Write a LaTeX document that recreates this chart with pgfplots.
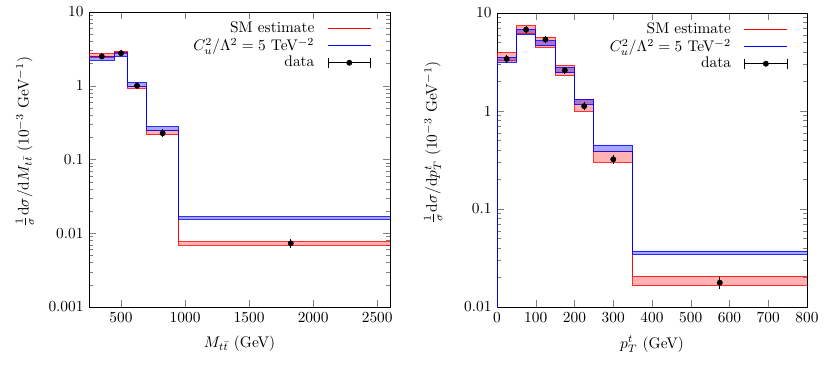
\documentclass[border=0pt]{standalone}
\usepackage{pgfplots}
\pgfplotsset{compat=1.18}
\usepgfplotslibrary{fillbetween}
\usepackage{pgfplotstable}

% bin left edges, last row = right edge of last bin
\pgfplotstableread{
x     smlo    smhi    bsmlo   bsmhi
250   2.45    2.70    2.22    2.50
450   2.72    2.92    2.50    2.80
550   0.93    0.99    0.98    1.11
700   0.216   0.245   0.245   0.278
950   0.0069  0.0077  0.0155  0.0168
2700  0.0069  0.0077  0.0155  0.0168
}\mttbands
\pgfplotstableread{
x     y       e
350   2.50    0.07
500   2.76    0.07
625   1.00    0.03
825   0.227   0.012
1825  0.0073  0.0006
}\mttdata

\pgfplotstableread{
x     smlo    smhi    bsmlo   bsmhi
0     0.005   0.005   0.005   0.005
0     3.30    3.95    3.15    3.55
50    6.20    7.40    6.00    6.80
100   4.50    5.65    4.65    5.20
150   2.30    2.92    2.45    2.75
200   1.00    1.32    1.16    1.30
250   0.30    0.39    0.39    0.45
350   0.0165  0.0207  0.0342  0.0373
800   0.0165  0.0207  0.0342  0.0373
}\ptbands
\pgfplotstableread{
x     y       e
25    3.40    0.15
75    6.76    0.20
125   5.37    0.20
175   2.60    0.10
225   1.12    0.05
300   0.321   0.015
575   0.0177  0.0016
}\ptdata

\pgfplotsset{
  stepline/.style={const plot mark left, forget plot, no markers, line width=0.6pt},
}

\newcommand{\drawbands}[1]{%
  \addplot[stepline, red, draw opacity=0.8, name path=smlo] table[x=x, y=smlo] {#1};
  \addplot[stepline, red, draw opacity=0.8, name path=smhi] table[x=x, y=smhi] {#1};
  \addplot[stepline, blue, draw opacity=0.8, name path=bsmlo] table[x=x, y=bsmlo] {#1};
  \addplot[stepline, blue, draw opacity=0.8, name path=bsmhi] table[x=x, y=bsmhi] {#1};
  \addplot[fill=red, fill opacity=0.3, draw=none, forget plot] fill between[of=smlo and smhi];
  \addplot[fill=blue, fill opacity=0.35, draw=none, forget plot] fill between[of=bsmlo and bsmhi];
}
\newcommand{\drawdata}[1]{%
  \addplot[only marks, mark=*, mark size=1.7pt, black, forget plot,
    error bars/.cd, y dir=both, y explicit,
    error bar style={line width=0.6pt}, error mark options={mark size=1.4pt, line width=0.6pt}]
    table[x=x, y=y, y error=e] {#1};
}
\newcommand{\legendentries}{%
  \addlegendimage{legend image code/.code={\path (0pt,0pt);
    \draw[red, line width=0.9pt] (7pt,0pt) -- (35pt,0pt);}}
  \addlegendentry{SM estimate}
  \addlegendimage{legend image code/.code={\path (0pt,0pt);
    \draw[blue, line width=0.9pt] (7pt,0pt) -- (35pt,0pt);}}
  \addlegendentry{$C_u^2/\Lambda^2=5$ TeV$^{-2}$}
  \addlegendimage{legend image code/.code={\path (0pt,0pt);
    \draw[black, line width=0.6pt, |-|] (7pt,0pt) -- (35pt,0pt);
    \fill[black] (21pt,0pt) circle (1.7pt);}}
  \addlegendentry{data}
}

\begin{document}
\begin{tikzpicture}
\begin{axis}[
  scale only axis, ymode=log, tick align=inside,
  scaled x ticks=false, /pgf/number format/1000 sep={},
  legend plot pos=right, legend cell align=right,
  legend style={draw=none, fill=none, anchor=north east, row sep=-1pt,
    nodes={inner sep=1.5pt}, at={(rel axis cs:0.955,0.985)}},
  at={(0pt,0pt)}, anchor=south west,
  width=195.65pt, height=191.75pt,
  xmin=250, xmax=2600, ymin=0.001, ymax=10,
  xtick={500,1000,1500,2000,2500},
  ytick={0.001,0.01,0.1,1,10},
  yticklabels={0.001,0.01,0.1,1,10},
  xlabel={$M_{t\bar t}$ (GeV)},
  xlabel style={yshift=-2pt},
  ylabel={$\frac{1}{\sigma}\mathrm{d}\sigma/\mathrm{d}M_{t\bar t}$ $(10^{-3}$ GeV$^{-1})$},
  ylabel style={at={(axis description cs:-0.213,0.56)}, anchor=center},
]
\drawbands{\mttbands}
\drawdata{\mttdata}
\legendentries
\end{axis}

\begin{axis}[
  scale only axis, ymode=log, tick align=inside,
  scaled x ticks=false, /pgf/number format/1000 sep={},
  legend plot pos=right, legend cell align=right,
  legend style={draw=none, fill=none, anchor=north east, row sep=-1pt,
    nodes={inner sep=1.5pt}, at={(rel axis cs:0.955,0.985)}},
  at={(265.2pt,0pt)}, anchor=south west,
  width=201.5pt, height=191.1pt,
  xmin=0, xmax=800, ymin=0.01, ymax=10,
  xtick={0,100,...,800},
  ytick={0.01,0.1,1,10},
  yticklabels={0.01,0.1,1,10},
  xlabel={$p_T^t$ (GeV)},
  xlabel style={yshift=-2pt},
  ylabel={$\frac{1}{\sigma}\mathrm{d}\sigma/\mathrm{d}p_T^t$ $(10^{-3}$ GeV$^{-1})$},
  ylabel style={at={(axis description cs:-0.206,0.56)}, anchor=center},
]
\drawbands{\ptbands}
\drawdata{\ptdata}
\legendentries
\end{axis}
\pgfresetboundingbox
\path[use as bounding box] (-57.85pt,-38.35pt) rectangle (481.65pt,199.55pt);
\end{tikzpicture}
\end{document}
